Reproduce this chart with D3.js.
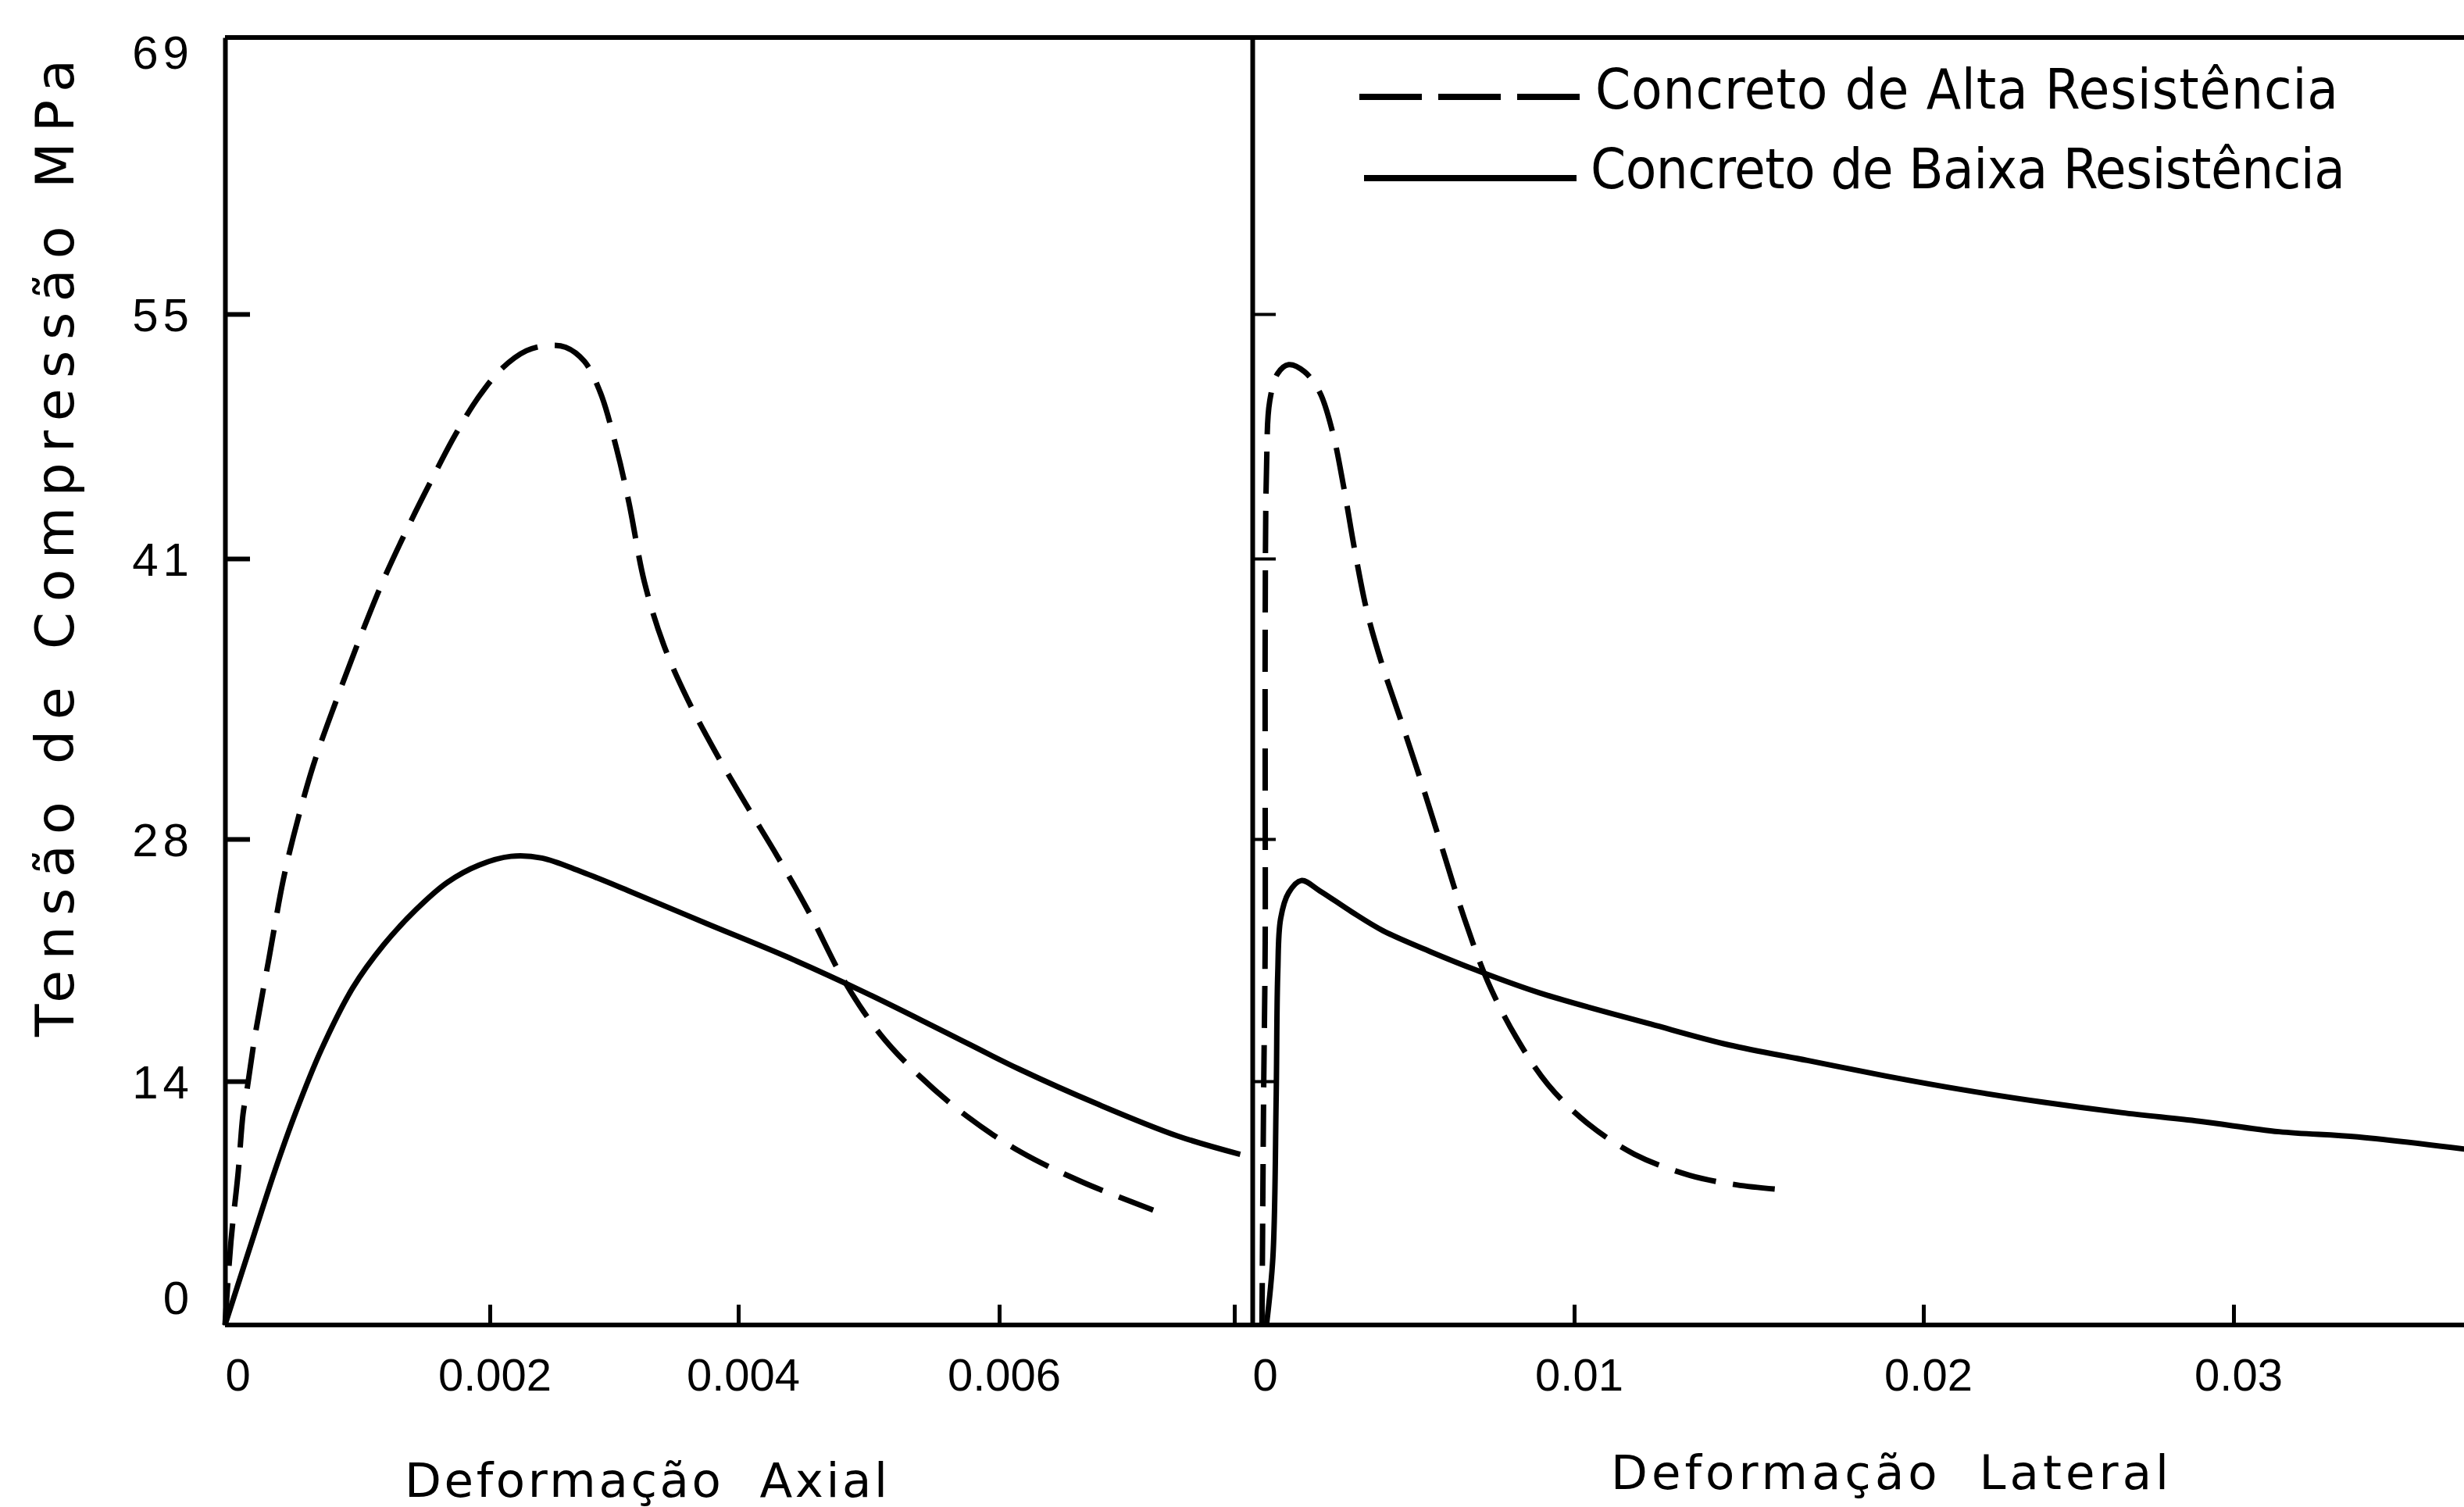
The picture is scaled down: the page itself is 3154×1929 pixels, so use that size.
<!DOCTYPE html>
<html>
<head>
<meta charset="utf-8">
<script src="https://cdn.jsdelivr.net/npm/d3@7"></script>
<style>
  html, body { margin: 0; padding: 0; background: #fff; }
  svg { display: block; }
  text { fill: #000; font-family: "Liberation Sans", "DejaVu Sans", sans-serif; }
  .narrow { font-family: "Liberation Sans Narrow", "DejaVu Sans Condensed", "Liberation Sans", sans-serif; }
  .title { font-family: "DejaVu Sans", "Liberation Sans", sans-serif; }
</style>
</head>
<body>
<svg id="chart" width="3154" height="1929"></svg>
<script>
// Stress axis (MPa) — ticks are the 2 ksi steps, labelled in rounded MPa
const stressTicks = [0, 14, 28, 41, 55, 69];
const stressTickLabels = ["0", "14", "28", "41", "55", "69"];

// Axial strain axis
const axialTicks = [0, 0.002, 0.004, 0.006, 0.008];
const axialTickLabels = ["0", "0.002", "0.004", "0.006", ""];

// Lateral strain axis
const lateralTicks = [0, 0.01, 0.02, 0.03];
const lateralTickLabels = ["0", "0.01", "0.02", "0.03"];

const seriesNames = ["Concreto de Alta Resistência", "Concreto de Baixa Resistência"];
const axisTitles = ["Deformação  Axial", "Deformação  Lateral", "Tensão de Compressão MPa"];

// [strain, stress MPa] — high-strength concrete, axial strain
const axialHigh = [
  [0, 0], [0.000045, 4.8], [0.0001, 8.8], [0.000136, 12.1], [0.000166, 13.5],
  [0.000226, 16.6], [0.000332, 21.1], [0.000439, 25.6], [0.000516, 28.1],
  [0.000666, 31.4], [0.000845, 34.5], [0.001024, 37.4], [0.001203, 40.1],
  [0.001382, 42.8], [0.00156, 45.5], [0.00174, 48.1], [0.00192, 50.3],
  [0.0021, 51.9], [0.002295, 52.9], [0.00246, 53.2], [0.00261, 53.1],
  [0.00276, 52.3], [0.00289, 50.5], [0.00302, 47.3], [0.00312, 44.2],
  [0.003245, 39.9], [0.0034, 37.0], [0.00359, 34.5], [0.00381, 32.1],
  [0.00406, 29.6], [0.0043, 27.0], [0.00454, 23.8], [0.00482, 19.7],
  [0.00509, 16.7], [0.00539, 14.3], [0.00575, 12.0], [0.00618, 9.95],
  [0.00671, 8.2], [0.00731, 6.6]
];

// [strain, stress MPa] — low-strength concrete, axial strain
const axialLow = [
  [0, 0], [0.00022, 5.2], [0.000374, 8.8], [0.000534, 12.2], [0.000726, 15.8],
  [0.000965, 19.4], [0.0012, 21.9], [0.00144, 23.9], [0.00168, 25.5],
  [0.00192, 26.5], [0.00217, 27.0], [0.00242, 26.9], [0.00274, 26.1],
  [0.00312, 25.0], [0.00375, 23.1], [0.00437, 21.2], [0.00498, 19.1],
  [0.00557, 16.9], [0.00617, 14.7], [0.00685, 12.65], [0.00752, 10.85],
  [0.00805, 9.8]
];

// [strain, stress MPa] — high-strength concrete, lateral strain
const lateralHigh = [
  [0.0003, 0], [0.00035, 12.9], [0.0004, 22.0], [0.0004, 30.5], [0.0004, 37.8],
  [0.00044, 46.0], [0.00054, 50.0], [0.00079, 51.6], [0.00113, 52.1],
  [0.00162, 51.7], [0.0021, 50.5], [0.0025, 48.2], [0.00284, 45.1],
  [0.00318, 41.5], [0.00357, 38.5], [0.00405, 36.0], [0.00464, 33.4],
  [0.00528, 30.5], [0.00591, 27.4], [0.00659, 23.4], [0.00733, 19.7],
  [0.00821, 16.5], [0.00919, 13.8], [0.01037, 11.6], [0.01173, 9.8],
  [0.0133, 8.6], [0.01465, 8.05], [0.01578, 7.8]
];

// [strain, stress MPa] — low-strength concrete, lateral strain
const lateralLow = [
  [0.00044, 0], [0.00064, 3.9], [0.00074, 12.9], [0.00079, 20.2], [0.00088, 23.4],
  [0.00113, 24.9], [0.00152, 25.6], [0.0021, 25.0], [0.00308, 23.8],
  [0.00406, 22.7], [0.00552, 21.5], [0.00699, 20.4], [0.00894, 19.1],
  [0.0122, 17.3], [0.01443, 16.1], [0.01668, 15.2], [0.01893, 14.3],
  [0.0213, 13.5], [0.02385, 12.8], [0.02638, 12.2], [0.0289, 11.7],
  [0.03147, 11.1], [0.034, 10.8], [0.03745, 10.1]
];

const W = 3154, H = 1929;
const svg = d3.select("#chart");

// The drawn axes were lettered by hand, so each scale follows its own tick marks
const y = d3.scaleLinear().domain(stressTicks).range([1696, 1384, 1074, 715, 402, 48]);
const xAxial = d3.scaleLinear().domain(axialTicks).range([288, 627, 945, 1279, 1580]);
const xLateral = d3.scaleLinear().domain(lateralTicks).range([1603, 2015, 2462, 2859]);

const axisStroke = 6;
const ink = "#000";

// Frame: top border, baseline, divider between the panels
const yTop = y(69), yBase = y(0);
const xLeft = xAxial(0), xDiv = xLateral(0);
svg.append("line").attr("x1", xLeft).attr("x2", W).attr("y1", yTop).attr("y2", yTop)
  .attr("stroke", ink).attr("stroke-width", axisStroke);
svg.append("line").attr("x1", xLeft).attr("x2", W).attr("y1", yBase).attr("y2", yBase)
  .attr("stroke", ink).attr("stroke-width", axisStroke);

// Left stress axis
const yAxisL = svg.append("g").attr("transform", `translate(${xLeft},0)`)
  .call(d3.axisLeft(y).tickValues(stressTicks.slice(1, 5)).tickSizeInner(-32).tickSizeOuter(0).tickFormat(""));
yAxisL.select(".domain").attr("stroke", ink).attr("stroke-width", axisStroke);
yAxisL.selectAll(".tick line").attr("stroke", ink).attr("stroke-width", 6);

// Stress tick labels
const yLabels = svg.append("g");
yLabels.selectAll("text").data(stressTicks).join("text")
  .attr("x", xLeft - 40)
  .attr("y", (d, i) => y(d) + (i === 0 ? -36 : i === stressTicks.length - 1 ? 18 : 0))
  .attr("dy", "0.36em")
  .attr("text-anchor", "end")
  .attr("font-size", 60)
  .attr("letter-spacing", 6)
  .text((d, i) => stressTickLabels[i]);

// Divider / lateral-panel stress axis (ticks only)
const yAxisR = svg.append("g").attr("transform", `translate(${xDiv},0)`)
  .call(d3.axisLeft(y).tickValues(stressTicks.slice(1, 5)).tickSizeInner(-30).tickSizeOuter(0).tickFormat(""));
yAxisR.select(".domain").attr("stroke", ink).attr("stroke-width", axisStroke);
yAxisR.selectAll(".tick line").attr("stroke", ink).attr("stroke-width", 4);

// Strain axes: ticks point up into the plot, labels below
function strainAxis(scale, ticks, labels) {
  const g = svg.append("g").attr("transform", `translate(0,${yBase})`)
    .call(d3.axisBottom(scale).tickValues(ticks).tickSizeInner(-26).tickSizeOuter(0)
      .tickFormat((d, i) => labels[i]));
  g.select(".domain").remove();
  g.selectAll(".tick line").attr("stroke", ink).attr("stroke-width", 5)
    .attr("display", d => d === 0 ? "none" : null);
  g.selectAll(".tick text").attr("y", 84).attr("dy", 0)
    .attr("dx", d => d === 0 ? 16 : 6)
    .attr("font-size", 58).attr("font-family", null).attr("fill", ink);
  return g;
}
strainAxis(xAxial, axialTicks, axialTickLabels);
strainAxis(xLateral, lateralTicks, lateralTickLabels);

// Curves
const lineAxial = d3.line().x(d => xAxial(d[0])).y(d => y(d[1])).curve(d3.curveCatmullRom.alpha(0.5));
const lineLateral = d3.line().x(d => xLateral(d[0])).y(d => y(d[1])).curve(d3.curveCatmullRom.alpha(0.5));
const dash = "54,22";

svg.append("path").attr("d", lineAxial(axialLow)).attr("fill", "none")
  .attr("stroke", ink).attr("stroke-width", 7).attr("stroke-linejoin", "round");
svg.append("path").attr("d", lineAxial(axialHigh)).attr("fill", "none")
  .attr("stroke", ink).attr("stroke-width", 7).attr("stroke-dasharray", dash);
svg.append("path").attr("d", lineLateral(lateralLow)).attr("fill", "none")
  .attr("stroke", ink).attr("stroke-width", 7).attr("stroke-linejoin", "round");
svg.append("path").attr("d", lineLateral(lateralHigh)).attr("fill", "none")
  .attr("stroke", ink).attr("stroke-width", 7).attr("stroke-dasharray", dash);

// Legend
const legend = svg.append("g");
legend.append("line").attr("x1", 1740).attr("x2", 2022).attr("y1", 124).attr("y2", 124)
  .attr("stroke", ink).attr("stroke-width", 8).attr("stroke-dasharray", "80,21");
legend.append("line").attr("x1", 1746).attr("x2", 2018).attr("y1", 228).attr("y2", 228)
  .attr("stroke", ink).attr("stroke-width", 8);
legend.append("text").attr("class", "narrow").attr("x", 2042).attr("y", 139).attr("font-size", 72)
  .attr("textLength", 951).attr("lengthAdjust", "spacing").text(seriesNames[0]);
legend.append("text").attr("class", "narrow").attr("x", 2036).attr("y", 241).attr("font-size", 72)
  .attr("textLength", 966).attr("lengthAdjust", "spacing").text(seriesNames[1]);

// Axis titles
svg.append("text").attr("class", "title").attr("x", 518).attr("y", 1916).attr("font-size", 61)
  .attr("textLength", 618).attr("lengthAdjust", "spacing").attr("xml:space", "preserve")
  .text(axisTitles[0]);
svg.append("text").attr("class", "title").attr("x", 2062).attr("y", 1906).attr("font-size", 61)
  .attr("textLength", 714).attr("lengthAdjust", "spacing").attr("xml:space", "preserve")
  .text(axisTitles[1]);
svg.append("text").attr("class", "title").attr("transform", "translate(94,1327) rotate(-90)")
  .attr("font-size", 68).attr("textLength", 1251).attr("lengthAdjust", "spacing")
  .text(axisTitles[2]);
</script>
</body>
</html>
